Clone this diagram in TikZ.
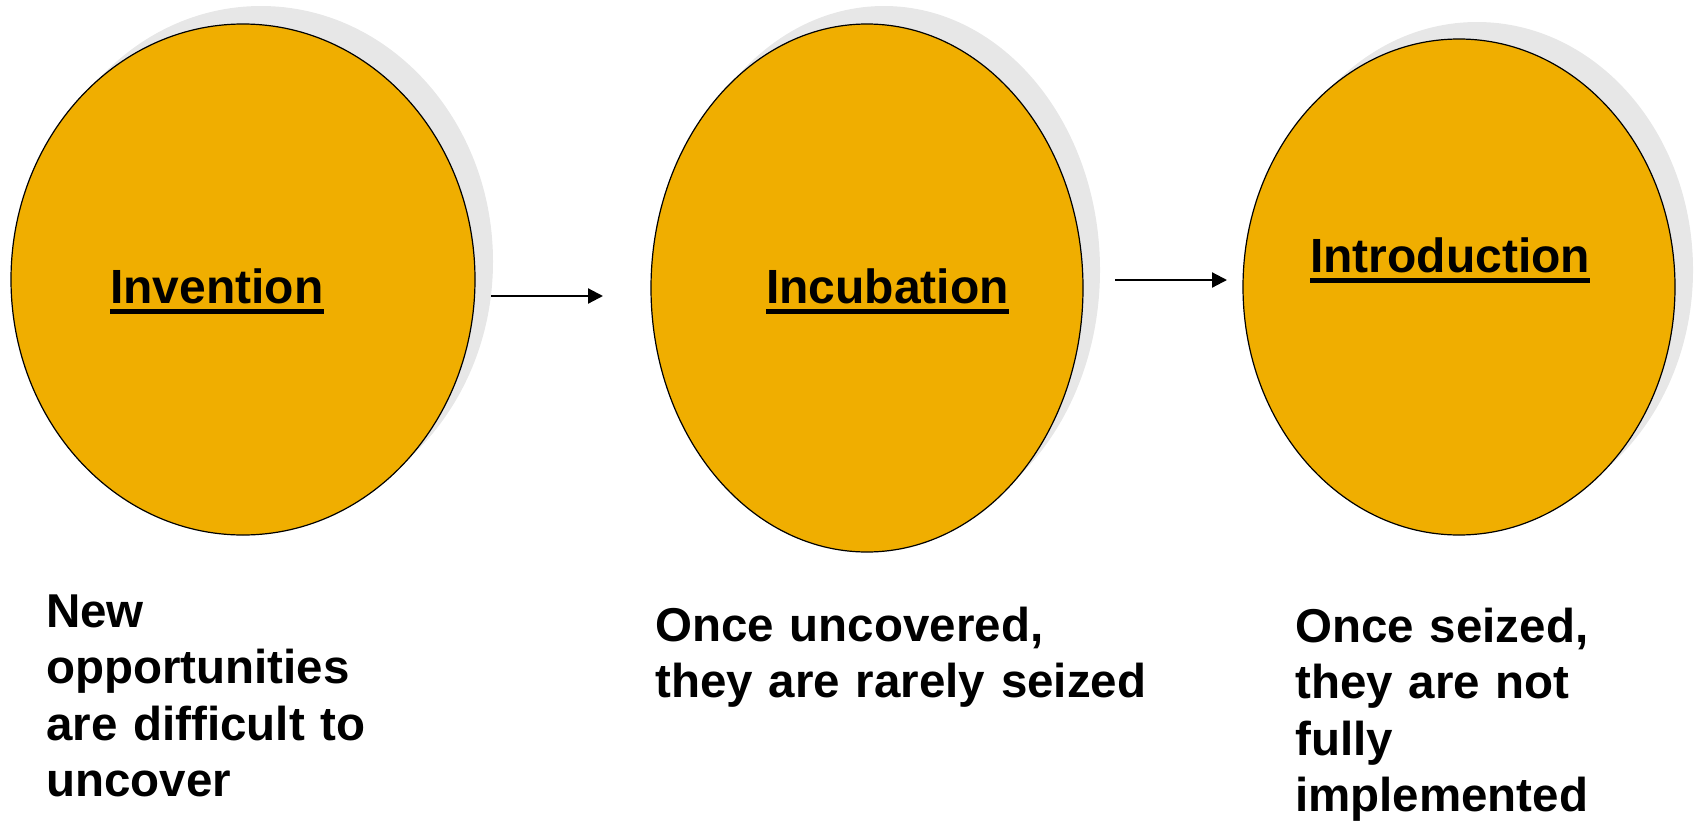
\documentclass[tikz,border=0pt]{standalone}
\usepackage{fontspec}
\setmainfont{Liberation Sans}
\usetikzlibrary{shapes.geometric,arrows.meta}
\definecolor{gold}{RGB}{240,174,0}
\definecolor{shadowgray}{RGB}{231,231,231}
\newsavebox\ulbox
\newcommand\myul[1]{\sbox\ulbox{#1}\rlap{\rule[-11pt]{\wd\ulbox}{5pt}}\usebox\ulbox}
\tikzset{
  bigfont/.style={font=\fontsize{48}{56.5}\selectfont\bfseries},
  capfont/.style={font=\fontsize{47.5}{56.5}\selectfont\bfseries},
  stage/.style={ellipse, draw=black, line width=1.2pt, fill=gold, inner sep=0pt},
  stageshadow/.style={ellipse, fill=shadowgray, inner sep=0pt},
  title/.style={bigfont, anchor=base west, inner sep=0pt},
  caption/.style={capfont, anchor=base west, inner sep=0pt, align=left, text width=560pt},
  flow/.style={line width=2.2pt, -{Triangle[length=15pt,width=15pt]}}
}
\begin{document}
\begin{tikzpicture}[x=1pt,y=-1pt]
\useasboundingbox (0,0) rectangle (1694,822);
% shadows
\node[stageshadow, minimum width=464pt, minimum height=511pt] (s1) at (261,261.5) {};
\node[stageshadow, minimum width=432pt, minimum height=528pt] (s2) at (884,270) {};
\node[stageshadow, minimum width=432pt, minimum height=496pt] (s3) at (1477,270) {};
% stages
\node[stage, minimum width=464pt, minimum height=511pt] (c1) at (243,279.5) {};
\node[stage, minimum width=432pt, minimum height=528pt] (c2) at (867,288) {};
\node[stage, minimum width=432pt, minimum height=496pt] (c3) at (1459,287) {};
% titles
\node[title] (t1) at (110,303) {\myul{Invention}};
\node[title] (t2) at (766,303) {\myul{Incubation}};
\node[title] (t3) at (1310,272) {\myul{Introduction}};
% arrows
\coordinate (a1s) at (491,296);
\coordinate (a1e) at (603,296);
\coordinate (a2s) at (1115,280);
\coordinate (a2e) at (1227,280);
\draw[flow] (a1s) -- (a1e);
\draw[flow] (a2s) -- (a2e);
% captions
\node[caption] (d1) at (46,627) {New\\opportunities\\are difficult to\\uncover};
\node[caption] (d2) at (655,641) {Once uncovered,\\they are rarely seized};
\node[caption, text width=380pt] (d3) at (1295,642) {Once seized,\\they are not\\fully\\implemented};
\end{tikzpicture}
\end{document}
